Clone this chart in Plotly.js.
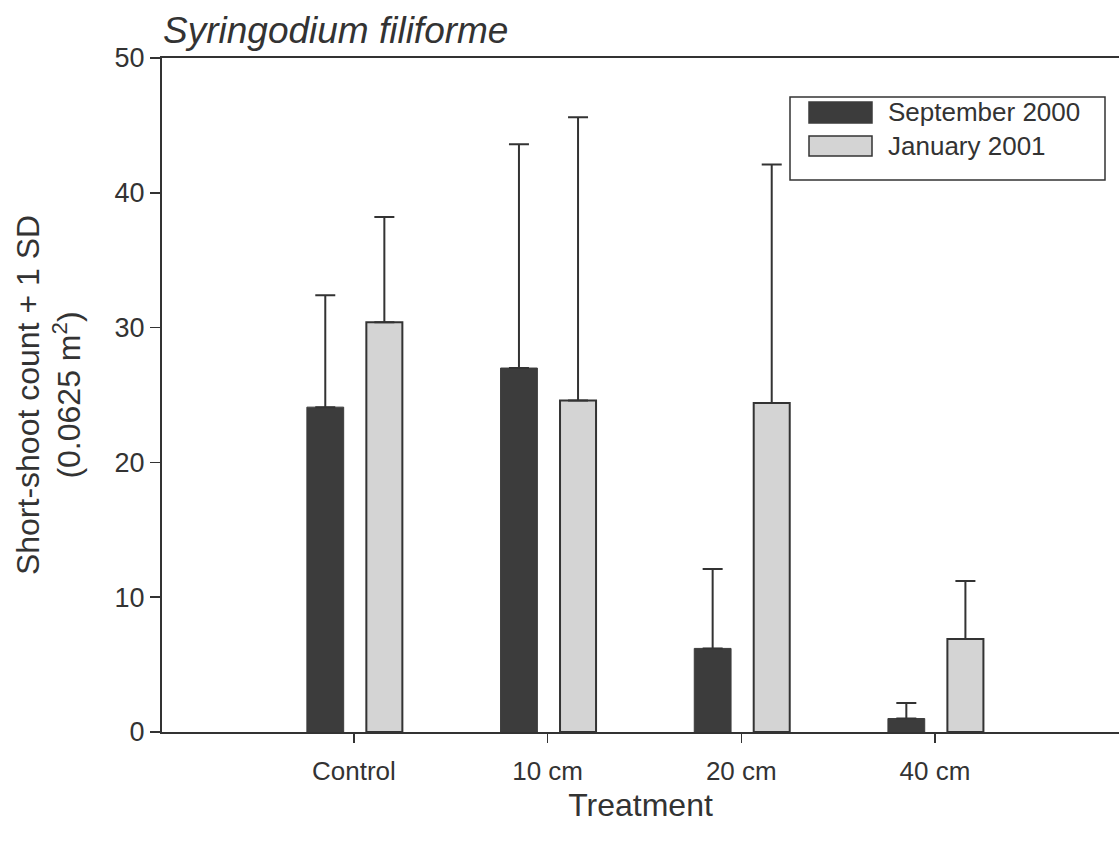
<!DOCTYPE html>
<html>
<head>
<meta charset="utf-8">
<script src="https://cdn.plot.ly/plotly-3.0.1.min.js"></script>
<style>html,body{margin:0;padding:0;background:#fff;}#chart{width:1120px;height:846px;}</style>
</head>
<body>
<div id="chart"></div>
<script>
// ---- data ----
const categories = ['Control', '10 cm', '20 cm', '40 cm'];
const seriesNames = ['September 2000', 'January 2001'];
const sep2000 = [24.1, 27.0, 6.2, 1.0];
const sep2000SD = [8.3, 16.6, 5.9, 1.15];
const jan2001 = [30.4, 24.6, 24.4, 6.9];
const jan2001SD = [7.8, 21.0, 17.7, 4.3];
const yTicks = [0, 10, 20, 30, 40, 50];

// ---- layout geometry ----
const W = 1120, H = 846;
const M = {l: 162, r: 1, t: 58, b: 114};
const plotW = W - M.l - M.r, plotH = H - M.t - M.b;
const px = x => (x - M.l) / plotW;      // pixel x -> paper x
const py = y => (H - M.b - y) / plotH;  // pixel y -> paper y

const ink = '#333333';
const font = 'Liberation Sans, Arial, Helvetica, sans-serif';

function errs(sd) {
  return {type: 'data', symmetric: false, array: sd, arrayminus: sd.map(() => 0),
          color: ink, thickness: 2, width: 10, visible: true};
}

const traces = [
  {type: 'bar', name: seriesNames[0], x: categories, y: sep2000,
   offset: -0.243, width: 0.19,
   marker: {color: '#3c3c3c', line: {color: '#3c3c3c', width: 1}},
   error_y: errs(sep2000SD), showlegend: false},
  {type: 'bar', name: seriesNames[1], x: categories, y: jan2001,
   offset: 0.064, width: 0.186,
   marker: {color: '#d4d4d4', line: {color: ink, width: 2}},
   error_y: errs(jan2001SD), showlegend: false}
];

// custom legend (large swatches as in the reference)
const legendBox = {x0: 790, x1: 1105, y0: 97, y1: 180};
const swatches = [
  {x0: 809, x1: 872, y0: 102, y1: 123, fill: '#3c3c3c', line: '#3c3c3c'},
  {x0: 809, x1: 872, y0: 136, y1: 156, fill: '#d4d4d4', line: ink}
];
const shapes = [
  {type: 'rect', xref: 'paper', yref: 'paper',
   x0: px(legendBox.x0), x1: px(legendBox.x1), y0: py(legendBox.y1), y1: py(legendBox.y0),
   line: {color: ink, width: 1.5}, fillcolor: 'rgba(255,255,255,0)'}
].concat(swatches.map(s => ({
  type: 'rect', xref: 'paper', yref: 'paper',
  x0: px(s.x0), x1: px(s.x1), y0: py(s.y1), y1: py(s.y0),
  line: {color: s.line, width: 1.5}, fillcolor: s.fill
})));
const annotations = seriesNames.map((n, i) => ({
  xref: 'paper', yref: 'paper', x: px(886), y: py(i === 0 ? 112 : 146),
  xanchor: 'left', yanchor: 'middle', showarrow: false, text: n,
  font: {family: font, size: 26, color: ink}
}));

const layout = {
  width: W, height: H,
  margin: M,
  paper_bgcolor: '#ffffff', plot_bgcolor: '#ffffff',
  font: {family: font, color: ink},
  title: {text: '<i>Syringodium filiforme</i>', xref: 'paper', x: px(163), xanchor: 'left',
          yref: 'container', y: 1 - 30 / H, yanchor: 'middle',
          font: {family: font, size: 37, color: ink}},
  barmode: 'group',
  showlegend: false,
  xaxis: {
    type: 'category', range: [-0.991, 3.95], fixedrange: true,
    showline: true, linecolor: ink, linewidth: 2, mirror: true,
    ticks: 'outside', ticklen: 9, tickwidth: 1.5, tickcolor: ink,
    ticklabelstandoff: 6,
    showgrid: false, zeroline: false,
    tickfont: {family: font, size: 26, color: ink},
    title: {text: 'Treatment', font: {family: font, size: 32, color: ink}, standoff: 8}
  },
  yaxis: {
    range: [0, 50], tickvals: yTicks, fixedrange: true,
    showline: true, linecolor: ink, linewidth: 2,
    ticks: 'outside', ticklen: 10, tickwidth: 1.5, tickcolor: ink,
    showgrid: false, zeroline: false,
    tickfont: {family: font, size: 27, color: ink},
    title: {text: 'Short-shoot count + 1 SD<br>(0.0625 m<sup>2</sup>)',
            font: {family: font, size: 32, color: ink}, standoff: 24}
  },
  shapes: shapes,
  annotations: annotations
};

Plotly.newPlot('chart', traces, layout, {displayModeBar: false, staticPlot: true});
</script>
</body>
</html>
